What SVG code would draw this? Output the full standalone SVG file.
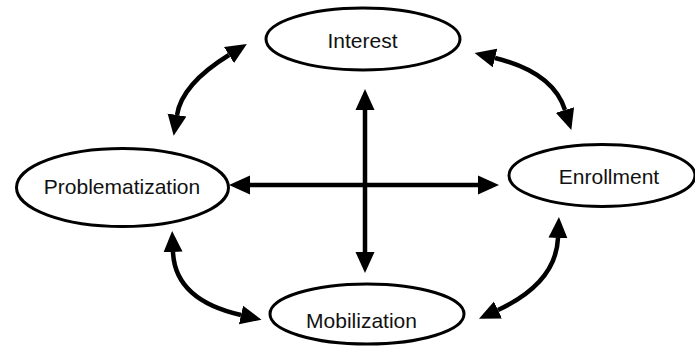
<svg xmlns="http://www.w3.org/2000/svg" width="695" height="347" viewBox="0 0 695 347">
<style>
.node ellipse{fill:#fff;stroke:#000;stroke-width:3}
.node text{font-family:"Liberation Sans",Arial,sans-serif;font-size:21px;fill:#111;text-anchor:middle}
.conn path{fill:none;stroke:#000;stroke-width:4.5;marker-start:url(#ah);marker-end:url(#ah)}
</style>
<defs>
<marker id="ah" markerUnits="userSpaceOnUse" markerWidth="22" markerHeight="20" refX="0" refY="9.5" viewBox="0 0 22 19" orient="auto-start-reverse">
<path d="M0,0 L21,9.5 L0,19 z" fill="#000"/>
</marker>
</defs>
<g id="connectors" class="conn">
<path d="M250,185 L478,185"/>
<path d="M365,110 L365,252"/>
<path d="M177,115 Q182,84 229,55"/>
<path d="M495,58 Q553,72 565,110"/>
<path d="M173,252 Q175,300 241,315"/>
<path d="M558,238 Q556,283 498,310"/>
</g>
<g id="interest" class="node">
<ellipse cx="363" cy="39" rx="97" ry="31"/>
<text x="362.5" y="48">Interest</text>
</g>
<g id="problematization" class="node">
<ellipse cx="122.5" cy="187.5" rx="106" ry="39"/>
<text x="122" y="194">Problematization</text>
</g>
<g id="enrollment" class="node">
<ellipse cx="602" cy="175.5" rx="93" ry="31"/>
<text x="609" y="184">Enrollment</text>
</g>
<g id="mobilization" class="node">
<ellipse cx="367" cy="314" rx="97" ry="30"/>
<text x="361.5" y="328">Mobilization</text>
</g>
</svg>
